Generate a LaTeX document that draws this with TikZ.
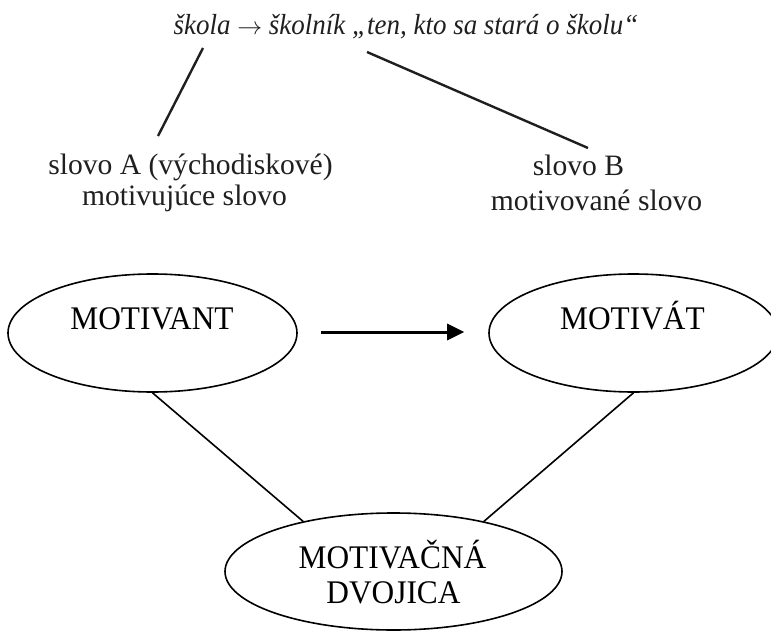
\documentclass[tikz,border=0pt]{standalone}
\usepackage{fontspec}
\setmainfont{Liberation Serif}
\newfontfamily\ovalfont[FakeStretch=0.95]{Liberation Serif}
\newfontfamily\headfont[FakeStretch=0.93]{Liberation Serif}
\usetikzlibrary{shapes.geometric,arrows.meta}

\tikzset{
  oval/.style={ellipse, draw, line width=1.6pt, inner sep=0pt,
               minimum width=289pt, minimum height=118pt},
  bigoval/.style={oval, minimum width=337pt, minimum height=117pt},
  ovaltext/.style={anchor=base, inner sep=0pt, font=\ovalfont\fontsize{33}{35}\selectfont},
  wordtext/.style={anchor=base, inner sep=0pt, font=\fontsize{29.6}{31}\selectfont, text=black!88},
  headtext/.style={anchor=base, inner sep=0pt, font=\headfont\fontsize{29}{30}\selectfont\itshape, text=black!88},
  tie/.style={line width=2.4pt, draw=black!88},
  link/.style={line width=1.6pt},
  flow/.style={line width=3pt, -{Triangle[length=17pt,width=16pt]}}
}

\begin{document}
\begin{tikzpicture}[x=1pt,y=-1pt]
  \useasboundingbox (0,0) rectangle (771,631);
  \clip (0,0) rectangle (771,631);

  % example word pair
  \node[headtext] (pair) at (406,35)
    {škola $\rightarrow$ školník „ten, kto sa stará o školu“};

  \node[wordtext] (wa1) at (190.5,175) {slovo A (východiskové)};
  \node[wordtext] (wa2) at (184.5,206) {motivujúce slovo};
  \node[wordtext] (wb1) at (578.5,176) {slovo B};
  \node[wordtext] (wb2) at (596.5,211) {motivované slovo};

  \coordinate (pa) at (203,48);
  \coordinate (pa') at (158,136);
  \coordinate (pb) at (367,52);
  \coordinate (pb') at (588,148);
  \draw[tie] (pa) -- (pa');
  \draw[tie] (pb) -- (pb');

  % the motivation pair
  \node[oval] (mant) at (152.5,333) {};
  \node[oval] (mat) at (633.5,333) {};
  \node[bigoval] (pair2) at (393.5,571.5) {};

  \node[ovaltext] (tmant) at (152,329) {MOTIVANT};
  \node[ovaltext] (tmat) at (632.5,329) {MOTIVÁT};
  \node[ovaltext] (tp1) at (392.5,568) {MOTIVAČNÁ};
  \node[ovaltext] (tp2) at (393.5,603) {DVOJICA};

  \draw[flow] ([xshift=23pt,yshift=1pt]mant.east) -- ([xshift=-24pt,yshift=1pt]mat.west);
  \draw[link] (mant.south) -- (pair2.151);
  \draw[link] (mat.south) -- (pair2.29);
\end{tikzpicture}
\end{document}
